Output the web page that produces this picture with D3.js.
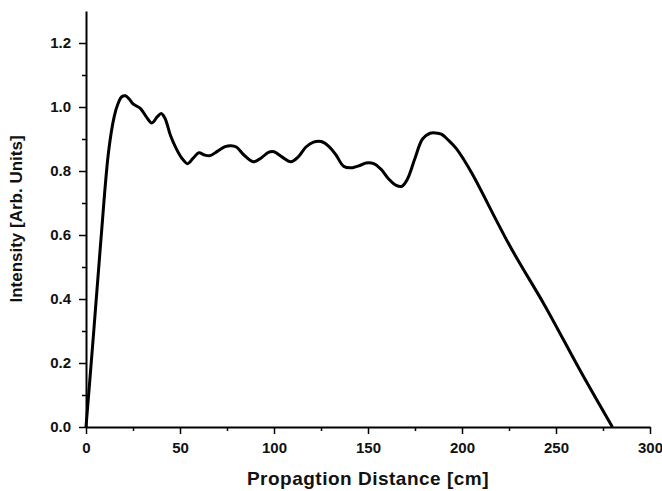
<!DOCTYPE html>
<html>
<head>
<meta charset="utf-8">
<script src="https://cdn.jsdelivr.net/npm/d3@7"></script>
<style>
  body { margin: 0; background: white; }
  svg text { font-family: "Liberation Sans", Arial, sans-serif; font-weight: bold; fill: #111; }
</style>
</head>
<body>
<div id="chart"></div>
<script>
// values
let distance = [0, 4, 8, 12, 15, 17, 19, 21, 23, 25, 29, 32, 35, 38, 40, 42, 45, 48, 51, 54, 57, 60, 63, 66, 70, 74, 77, 80, 84, 89, 93, 97, 100, 104, 109, 113, 117, 121, 125, 129, 133, 137, 141, 146, 149, 153, 157, 161, 165, 168, 171, 175, 179, 183, 186, 189, 193, 197, 201, 206, 226, 244, 263, 280]
let intensity = [0, 0.29, 0.59, 0.86, 0.97, 1.01, 1.032, 1.035, 1.025, 1.01, 0.995, 0.97, 0.95, 0.97, 0.98, 0.965, 0.91, 0.87, 0.84, 0.823, 0.84, 0.857, 0.85, 0.848, 0.862, 0.876, 0.879, 0.875, 0.85, 0.829, 0.84, 0.858, 0.86, 0.845, 0.829, 0.845, 0.875, 0.89, 0.892, 0.878, 0.85, 0.815, 0.81, 0.818, 0.825, 0.823, 0.805, 0.775, 0.755, 0.752, 0.775, 0.84, 0.9, 0.918, 0.919, 0.915, 0.895, 0.87, 0.835, 0.785, 0.56, 0.38, 0.175, 0]
let xTicks = [0, 50, 100, 150, 200, 250, 300]
let yTicks = [0.0, 0.2, 0.4, 0.6, 0.8, 1.0, 1.2]

let width = 662, height = 491
let margin = { left: 86, right: 12, top: 11, bottom: 64 }

let svg = d3.select("#chart").append("svg")
    .attr("width", width)
    .attr("height", height)

let x = d3.scaleLinear().domain([0, 300]).range([margin.left, width - margin.right])
let y = d3.scaleLinear().domain([0, 1.3]).range([height - margin.bottom, margin.top])

// minor ticks first, then major ones on top
svg.append("g")
    .attr("transform", `translate(0,${y(0)})`)
    .call(d3.axisBottom(x).tickValues(d3.range(25, 300, 50)).tickSize(4).tickFormat(""))
    .call(g => g.select(".domain").remove())
    .selectAll("line").attr("stroke-width", 1.5)

svg.append("g")
    .attr("transform", `translate(${x(0)},0)`)
    .call(d3.axisLeft(y).tickValues(d3.range(0.1, 1.3, 0.2)).tickSize(4).tickFormat(""))
    .call(g => g.select(".domain").remove())
    .selectAll("line").attr("stroke-width", 1.5)

let xAxis = svg.append("g")
    .attr("transform", `translate(0,${y(0)})`)
    .call(d3.axisBottom(x).tickValues(xTicks).tickSize(7).tickSizeOuter(0).tickPadding(8))
xAxis.select(".domain").attr("stroke-width", 2)
xAxis.selectAll("line").attr("stroke-width", 1.5)
xAxis.selectAll("text").style("font-size", "15px")

let yAxis = svg.append("g")
    .attr("transform", `translate(${x(0)},0)`)
    .call(d3.axisLeft(y).tickValues(yTicks).tickSize(7).tickSizeOuter(0).tickPadding(8).tickFormat(d3.format(".1f")))
yAxis.select(".domain").attr("stroke-width", 2)
yAxis.selectAll("line").attr("stroke-width", 1.5)
yAxis.selectAll("text").style("font-size", "15px")

svg.append("text")
    .attr("x", (x(0) + x(300)) / 2)
    .attr("y", 485)
    .attr("text-anchor", "middle")
    .style("font-size", "19px")
    .style("letter-spacing", "0.5px")
    .text("Propagtion Distance [cm]")

svg.append("text")
    .attr("transform", `translate(22,${(y(0) + y(1.3)) / 2}) rotate(-90)`)
    .attr("text-anchor", "middle")
    .style("font-size", "17px")
    .text("Intensity [Arb. Units]")

let line = d3.line()
    .x((d, i) => x(distance[i]))
    .y(d => y(d))
    .curve(d3.curveCatmullRom)

svg.append("path")
    .datum(intensity)
    .attr("d", line)
    .attr("fill", "none")
    .attr("stroke", "black")
    .attr("stroke-width", 3)
    .attr("stroke-linejoin", "round")
</script>
</body>
</html>
